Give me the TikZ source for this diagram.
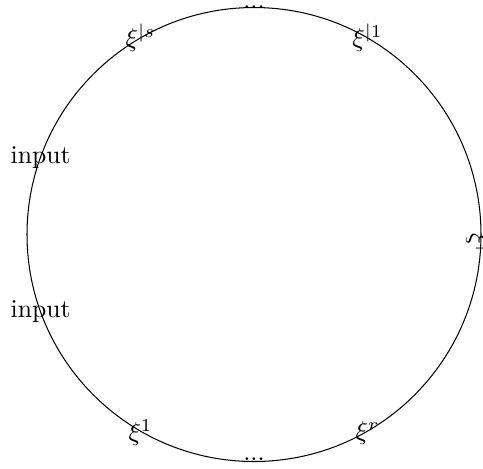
\documentclass[tikz,border=0pt]{standalone}
\begin{document}
\begin{tikzpicture}[x=0.389pt,y=-0.389pt,
  lbl/.style={inner sep=0pt}]
\useasboundingbox (0,0) rectangle (483,468);
\coordinate (c) at (254,234.5);
\draw[line width=0.4pt] (c) circle[radius=227];
\node[lbl] (top) at (254,7) {...};
\node[lbl] (bot) at (254,459) {...};
\node[lbl] (s1) at (367.5,38) {$\xi^{|1}$};
\node[lbl] (ss) at (140.5,38) {$\xi^{|s}$};
\node[lbl] (x1) at (140.5,433) {$\xi^{1}$};
\node[lbl] (xr) at (367.5,433) {$\xi^{r}$};
\node[lbl] (in1) at (40.7,158) {input};
\node[lbl] (in2) at (40.7,312) {input};
\node[lbl,rotate=-90] (rt) at (480,243) {$\xi^{|}$};
\end{tikzpicture}
\end{document}
